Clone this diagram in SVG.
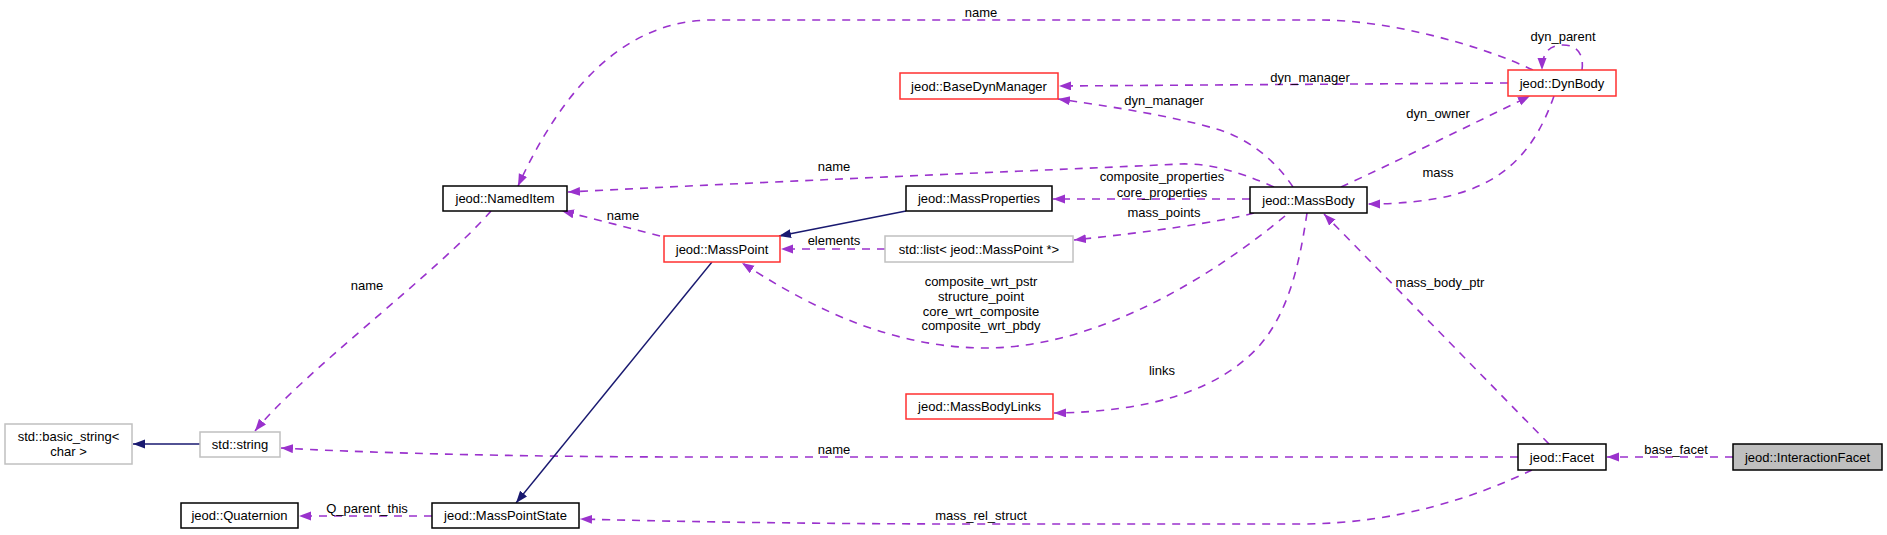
<svg xmlns="http://www.w3.org/2000/svg" width="1887" height="535" viewBox="0 0 1887 535">
<style>
text{font-family:"Liberation Sans",Arial,sans-serif;font-size:13px;fill:#000;text-anchor:middle}
.n rect{fill:#fff;stroke:#000;stroke-width:1.5}
.n.red rect{stroke:#ff3030}
.n.gray rect{stroke:#c0c0c0}
.n.cur rect{fill:#bfbfbf}
.e{fill:none;stroke:#9a32cd;stroke-width:1.6;stroke-dasharray:8,7;marker-end:url(#ap)}
.i{fill:none;stroke:#191970;stroke-width:1.4;marker-end:url(#an)}
</style>
<defs>
<marker id="ap" markerUnits="userSpaceOnUse" markerWidth="13" markerHeight="10" refX="12" refY="4.5" orient="auto"><path d="M0,0 L12,4.5 L0,9 z" fill="#9a32cd"/></marker>
<marker id="an" markerUnits="userSpaceOnUse" markerWidth="13" markerHeight="10" refX="12" refY="4.5" orient="auto"><path d="M0,0 L12,4.5 L0,9 z" fill="#191970"/></marker>
</defs>
<rect width="1887" height="535" fill="#fff"/>
<g id="connectors">
<path class="e" d="M1533,70 C1480,45 1390,20 1320,20 L712,20 C615,20 555,105 518,186"/>
<text x="981" y="16.5">name</text>
<path class="e" d="M1508,83 L1059,86"/>
<text x="1310" y="81.5">dyn_manager</text>
<path class="e" d="M1582,70 C1584,55 1578,45 1563,45 C1550,45 1542,52 1542,70"/>
<text x="1563" y="41">dyn_parent</text>
<path class="e" d="M1293,187 C1275,160 1250,140 1220,130 C1170,115 1100,105 1058,99"/>
<text x="1164" y="105">dyn_manager</text>
<path class="e" d="M1341,187 C1400,160 1470,125 1530,96"/>
<text x="1438" y="117.5">dyn_owner</text>
<path class="e" d="M1554,96 C1535,150 1505,185 1440,198 C1410,203 1390,204 1368,204"/>
<text x="1438" y="176.5">mass</text>
<path class="e" d="M1274,187 C1240,172 1210,163 1180,164 C1100,168 800,180 568,192"/>
<text x="834" y="171">name</text>
<path class="e" d="M1250,199 L1053,199"/>
<text x="1162" y="181">composite_properties</text>
<text x="1162" y="196.5">core_properties</text>
<path class="i" d="M906,211 L779,236"/>
<path class="e" d="M1254,213 C1220,222 1150,232 1074,240"/>
<text x="1164" y="216.5">mass_points</text>
<path class="e" d="M885,249 L781,249"/>
<text x="834" y="245">elements</text>
<path class="e" d="M660,236 C630,228 590,218 562,211"/>
<text x="623" y="219.5">name</text>
<path class="e" d="M1285,216 C1220,270 1100,350 980,348 C880,346 800,300 742,263"/>
<text x="981" y="285.5">composite_wrt_pstr</text>
<text x="981" y="300.5">structure_point</text>
<text x="981" y="315.5">core_wrt_composite</text>
<text x="981" y="329.5">composite_wrt_pbdy</text>
<path class="e" d="M1307,213 C1300,260 1290,310 1260,345 C1220,390 1150,412 1054,413"/>
<text x="1162" y="375">links</text>
<path class="e" d="M1549,444 L1324,214"/>
<text x="1440" y="287">mass_body_ptr</text>
<path class="e" d="M1518,457 L700,457 C500,457 350,452 281,448"/>
<text x="834" y="453.5">name</text>
<path class="e" d="M491,211 C440,270 300,375 255,431"/>
<text x="367" y="289.5">name</text>
<path class="i" d="M200,444 L133,444"/>
<path class="i" d="M712,262 L516,503"/>
<path class="e" d="M432,516 L299,516"/>
<text x="367" y="512.5">Q_parent_this</text>
<path class="e" d="M1532,470 C1480,495 1400,524 1300,524 L980,524 C800,524 650,521 580,519"/>
<text x="981" y="520">mass_rel_struct</text>
<path class="e" d="M1733,457 L1607,457"/>
<text x="1676" y="453.5">base_facet</text>
</g>
<g id="NamedItem" class="n"><rect x="443" y="186" width="124" height="25"/><text x="505" y="203">jeod::NamedItem</text></g>
<g id="BaseDynManager" class="n red"><rect x="900" y="73" width="158" height="26"/><text x="979" y="90.5">jeod::BaseDynManager</text></g>
<g id="MassProperties" class="n"><rect x="906" y="186" width="146" height="25"/><text x="979" y="203">jeod::MassProperties</text></g>
<g id="MassPoint" class="n red"><rect x="664" y="236" width="116" height="26"/><text x="722" y="253.5">jeod::MassPoint</text></g>
<g id="StdList" class="n gray"><rect x="885" y="236" width="188" height="26"/><text x="979" y="253.5">std::list&lt; jeod::MassPoint *&gt;</text></g>
<g id="MassBody" class="n"><rect x="1250" y="187" width="117" height="26"/><text x="1308.5" y="204.5">jeod::MassBody</text></g>
<g id="DynBody" class="n red"><rect x="1508" y="70" width="108" height="26"/><text x="1562" y="87.5">jeod::DynBody</text></g>
<g id="BasicString" class="n gray"><rect x="5" y="424" width="127" height="40"/><text x="68.5" y="441">std::basic_string&lt;</text><text x="68.5" y="456">char &gt;</text></g>
<g id="StdString" class="n gray"><rect x="200" y="432" width="80" height="25"/><text x="240" y="449">std::string</text></g>
<g id="Quaternion" class="n"><rect x="181" y="503" width="117" height="25"/><text x="239.5" y="520">jeod::Quaternion</text></g>
<g id="MassPointState" class="n"><rect x="432" y="503" width="147" height="25"/><text x="505.5" y="520">jeod::MassPointState</text></g>
<g id="MassBodyLinks" class="n red"><rect x="906" y="394" width="147" height="25"/><text x="979.5" y="411">jeod::MassBodyLinks</text></g>
<g id="Facet" class="n"><rect x="1518" y="444" width="88" height="26"/><text x="1562" y="461.5">jeod::Facet</text></g>
<g id="InteractionFacet" class="n cur"><rect x="1733" y="444" width="149" height="26"/><text x="1807.5" y="461.5">jeod::InteractionFacet</text></g>
</svg>
